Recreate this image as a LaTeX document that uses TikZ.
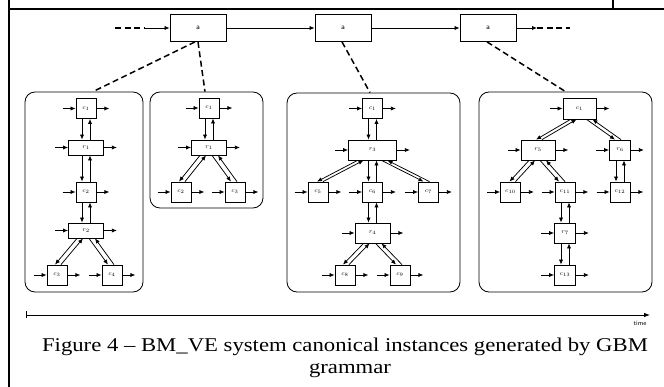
\documentclass[tikz,border=0pt]{standalone}
\usepackage{fontspec}
\setmainfont{Liberation Serif}
\usetikzlibrary{arrows.meta,calc}

% side input/output arrows of a component box
\newcommand{\sideio}[1]{%
  \draw[flow] ([xshift=-13pt]#1.west) -- (#1.west);
  \draw[flow] (#1.east) -- ([xshift=13pt]#1.east);}
% two opposite arrows between a parent box (above) and a child box (below)
% #3, #4: horizontal offsets on parent bottom / child top, #5: half spacing
\newcommand{\linkpair}[5]{%
  \draw[flow] ([xshift={(#3-#5)*1pt}]#1.south) -- ([xshift={(#4-#5)*1pt}]#2.north);
  \draw[flow] ([xshift={(#4+#5)*1pt}]#2.north) -- ([xshift={(#3+#5)*1pt}]#1.south);}

\begin{document}
\begin{tikzpicture}[x=1pt,y=-1pt,
  box/.style={draw,line width=0.8pt,inner sep=0pt,fill=white,
    font=\fontsize{6.5}{7}\selectfont},
  cbox/.style={box,minimum width=20pt,minimum height=20pt},
  rbox/.style={box,minimum width=35pt,minimum height=15pt},
  abox/.style={draw,line width=0.8pt,minimum width=56pt,minimum height=27pt,
    inner sep=0pt,font=\fontsize{7.5}{8}\sffamily},
  flow/.style={-{Latex[length=5pt,width=4.2pt]},line width=0.75pt},
  tieline/.style={line width=1.5pt,dash pattern=on 6pt off 3.5pt},
  panel/.style={draw,line width=0.8pt,rounded corners=10pt,inner sep=0pt},
  frameline/.style={line width=1.2pt},
  captext/.style={anchor=base,inner sep=0pt,font=\fontsize{19.5}{21}\selectfont}]
\useasboundingbox (0,0) rectangle (664,387);

% page frame
\draw[frameline] (8,9) -- (664,9);
\draw[frameline] (9,0) -- (9,387);
\draw[frameline] (613,0) -- (613,9);

% top-level sequence
\node[abox] (a1) at (198,28) {a};
\node[abox] (a2) at (343,28) {a};
\node[abox] (a3) at (488,28) {a};
\coordinate (in0) at (115,28);
\coordinate (in1) at (145,28);
\coordinate (out1) at (537,28);
\coordinate (out0) at (570,28);
\draw[tieline,line width=1.2pt] (in0) -- (in1);
\draw[flow] (in1) -- (a1);
\draw[flow] (a1) -- (a2);
\draw[flow] (a2) -- (a3);
\draw[flow] (a3) -- (out1);
\draw[tieline,line width=1.2pt] (out1) -- (out0);

% instance panels
\node[panel,minimum width=118pt,minimum height=200pt] (P1) at (84,192) {};
\node[panel,minimum width=113pt,minimum height=116pt] (P2) at (206.5,150) {};
\node[panel,minimum width=173pt,minimum height=199pt] (P3) at (373.5,192.5) {};
\node[panel,minimum width=173pt,minimum height=200pt] (P4) at (565.5,192) {};

\draw[tieline] ([xshift=-3pt]a1.south) -- ([xshift=9pt]P1.north);
\draw[tieline] (a1.south) -- ([xshift=-1.5pt]P2.north);
\draw[tieline] ([xshift=-1pt]a2.south) -- ([xshift=-3.5pt]P3.north);
\draw[tieline] ([xshift=-1pt]a3.south) -- (P4.north);

% instance 1
\node[cbox] (p1c1) at (86,108.5) {$c_1$};
\node[rbox] (p1r1) at (86,147.5) {$r_1$};
\node[cbox] (p1c2) at (86,192) {$c_2$};
\node[rbox] (p1r2) at (86,230.5) {$r_2$};
\node[cbox] (p1c3) at (57,275) {$c_3$};
\node[cbox] (p1c4) at (112,275) {$c_4$};
\foreach \n in {p1c1,p1r1,p1c2,p1r2,p1c3,p1c4} {\sideio{\n}}
\linkpair{p1c1}{p1r1}{0}{0}{4}
\linkpair{p1r1}{p1c2}{0}{0}{4}
\linkpair{p1c2}{p1r2}{0}{0}{4}
\linkpair{p1r2}{p1c3}{-6}{1}{3}
\linkpair{p1r2}{p1c4}{6}{-1}{3}

% instance 2
\node[cbox] (p2c1) at (209,108) {$c_1$};
\node[rbox] (p2r1) at (209,147.5) {$r_1$};
\node[cbox] (p2c2) at (181,192) {$c_2$};
\node[cbox] (p2c3) at (235,192) {$c_3$};
\foreach \n in {p2c1,p2r1,p2c2,p2c3} {\sideio{\n}}
\linkpair{p2c1}{p2r1}{0}{0}{4}
\linkpair{p2r1}{p2c2}{-6}{1}{3}
\linkpair{p2r1}{p2c3}{6}{-1}{3}

% instance 3
\node[cbox] (p3c1) at (372.5,108.5) {$c_1$};
\node[rbox,minimum width=48pt,minimum height=20pt] (p3r3) at (372.5,150) {$r_3$};
\node[cbox] (p3c5) at (318,192) {$c_5$};
\node[cbox] (p3c6) at (372.5,192) {$c_6$};
\node[cbox] (p3c7) at (428.5,192) {$c_7$};
\node[rbox,minimum height=20pt] (p3r4) at (372.5,233) {$r_4$};
\node[cbox] (p3c8) at (345,275) {$c_8$};
\node[cbox] (p3c9) at (400,275) {$c_9$};
\foreach \n in {p3c1,p3r3,p3c5,p3c6,p3c7,p3r4,p3c8,p3c9} {\sideio{\n}}
\linkpair{p3c1}{p3r3}{0}{0}{4}
\linkpair{p3r3}{p3c5}{-12}{2}{3}
\linkpair{p3r3}{p3c6}{0}{0}{4}
\linkpair{p3r3}{p3c7}{12}{-2}{3}
\linkpair{p3c6}{p3r4}{0}{0}{4}
\linkpair{p3r4}{p3c8}{-6}{1}{3}
\linkpair{p3r4}{p3c9}{6}{-1}{3}

% instance 4
\node[cbox,minimum width=33pt,minimum height=21pt] (p4c1) at (579.5,108.5) {$c_1$};
\node[rbox,minimum width=34pt,minimum height=20pt] (p4r5) at (538,150) {$r_5$};
\node[cbox,minimum width=21pt] (p4r6) at (620,150) {$r_6$};
\node[cbox] (p4c10) at (510.5,192) {$c_{10}$};
\node[cbox] (p4c11) at (565,192) {$c_{11}$};
\node[cbox] (p4c12) at (620,192) {$c_{12}$};
\node[cbox,minimum width=21pt] (p4r7) at (565,233) {$r_7$};
\node[cbox,minimum width=21pt] (p4c13) at (565,275) {$c_{13}$};
\foreach \n in {p4c1,p4r5,p4r6,p4c10,p4c11,p4c12,p4r7,p4c13} {\sideio{\n}}
\linkpair{p4c1}{p4r5}{-6}{1}{3}
\linkpair{p4c1}{p4r6}{10}{-2}{3}
\linkpair{p4r5}{p4c10}{-6}{2}{3}
\linkpair{p4r5}{p4c11}{5}{-3}{3}
\linkpair{p4r6}{p4c12}{0}{0}{4}
\linkpair{p4c11}{p4r7}{0}{0}{4}
\linkpair{p4r7}{p4c13}{0}{0}{4}

% time axis
\coordinate (t0) at (26,315);
\coordinate (t1) at (650,315);
\draw[line width=0.8pt,{Bar[width=7pt]}-{Latex[length=6pt,width=4.5pt]}] (t0) -- (t1);
\node[font=\fontsize{6.5}{7}\sffamily] (tlabel) at (640,323.5) {time};

% caption, set wide as in the source page
\node[captext] (cap1) at (345,352)
  {\scalebox{1.164}[1]{Figure 4 – BM\_VE system canonical instances generated by GBM}};
\node[captext] (cap2) at (350,373)
  {\scalebox{1.164}[1]{grammar}};
\end{tikzpicture}
\end{document}
